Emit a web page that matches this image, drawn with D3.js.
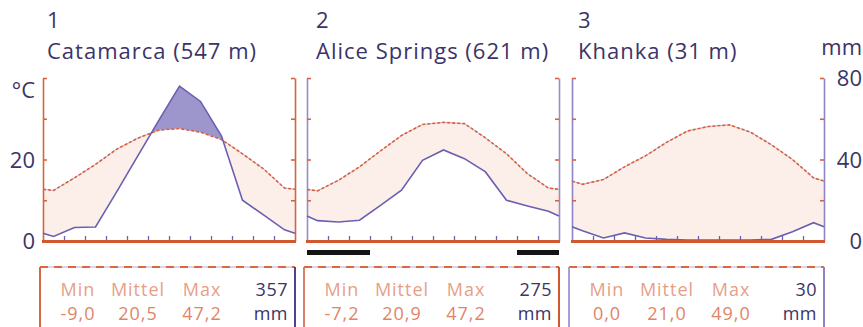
<!DOCTYPE html>
<html>
<head>
<meta charset="utf-8">
<script src="https://cdn.jsdelivr.net/npm/d3@7"></script>
<style>
  body { margin: 0; background: #fff; }
  svg { display: block; }
  text { font-family: "Open Sans", sans-serif; }
</style>
</head>
<body>
<div id="chart"></div>
<script>
// station data, months start in July for the southern stations
const stationNums = ["1", "2", "3"];
const stationNames = ["Catamarca (547 m)", "Alice Springs (621 m)", "Khanka (31 m)"];

const tempCatamarca = [12.4, 15.5, 18.8, 22.5, 25.2, 27.2, 27.6, 26.7, 24.9, 21.4, 17.7, 13.0];
const precCatamarca = [2.2, 6.6, 6.9, 24, 41.5, 59, 76, 68.5, 51.5, 20, 12.8, 5.5];

const tempAlice = [12.3, 14.9, 18.2, 22.1, 25.9, 28.6, 29.1, 28.8, 25.3, 21.4, 16.5, 13.0];
const precAlice = [10.0, 9.3, 10.2, 17.5, 24.9, 39.6, 44.7, 40.4, 33.9, 20.0, 17.2, 14.6];

const tempKhanka = [13.9, 15.1, 18.2, 20.9, 24.2, 27.0, 28.1, 28.5, 26.7, 23.6, 20.0, 15.5];
const precKhanka = [5, 1.5, 4, 1.5, 0.8, 0.5, 0.5, 0.5, 0.5, 0.8, 4.5, 9];

// months with frost (black bar under the diagram)
const frostCatamarca = [];
const frostAlice = [0, 1, 2, 10, 11];
const frostKhanka = [];

const statLabels = ["Min", "Mittel", "Max"];
const statsCatamarca = ["-9,0", "20,5", "47,2"];
const statsAlice = ["-7,2", "20,9", "47,2"];
const statsKhanka = ["0,0", "21,0", "49,0"];
const totals = ["357", "275", "30"];

const tempTicks = [0, 10, 20, 30, 40];
const leftLabels = ["20", "0"];
const rightLabels = ["80", "40", "0"];

const panels = [
  { temp: tempCatamarca, prec: precCatamarca, frost: frostCatamarca, stats: statsCatamarca,
    frame: "#d4653e", tick: "#d4653e", boxL: "#d26a45", boxR: "#4d4392", titleX: 47 },
  { temp: tempAlice, prec: precAlice, frost: frostAlice, stats: statsAlice,
    frame: "#978dcc", tick: "#d4653e", boxL: "#d58064", boxR: "#d0582f", titleX: 316 },
  { temp: tempKhanka, prec: precKhanka, frost: frostKhanka, stats: statsKhanka,
    frame: "#8d83c6", tick: "#d4653e", boxL: "#a79fd6", boxR: "#8d83c6", titleX: 578 }
];

const width = 863, height = 327;
const panelLeft = [43, 307, 572];
const panelW = 252;
const yTop = 78, yBase = 241;

const svg = d3.select("#chart")
  .append("svg")
    .attr("width", width)
    .attr("height", height);
const defs = svg.append("defs");

// Walter-Lieth: 10 °C = 20 mm
const yT = d3.scaleLinear().domain([0, 40]).range([yBase, yTop]);
const yP = d3.scaleLinear().domain([0, 80]).range([yBase, yTop]);

const textCol = "#3b3468";

panels.forEach((p, k) => {
  const x0 = panelLeft[k];
  const x = d3.scaleLinear().domain([0, 12]).range([x0, x0 + panelW]);

  // month centres, closed to the frame with the Dec/Jan mean
  const wrap = arr => {
    const e = (arr[0] + arr[11]) / 2;
    return [[0, e]].concat(arr.map((v, i) => [i + 0.5, v]), [[12, e]]);
  };
  const tPts = wrap(p.temp), pPts = wrap(p.prec);

  const g = svg.append("g");

  defs.append("clipPath").attr("id", "abovePrec" + k)
    .append("path")
    .attr("d", d3.area().x(d => x(d[0])).y0(yTop - 10).y1(d => yP(d[1]))(pPts));
  defs.append("clipPath").attr("id", "aboveTemp" + k)
    .append("path")
    .attr("d", d3.area().x(d => x(d[0])).y0(yTop - 10).y1(d => yT(d[1]))(tPts));

  // arid period
  g.append("path")
    .attr("d", d3.area().x(d => x(d[0])).y0(yBase).y1(d => yT(d[1]))(tPts))
    .attr("fill", "#fcefea")
    .attr("clip-path", `url(#abovePrec${k})`);
  // humid period
  g.append("path")
    .attr("d", d3.area().x(d => x(d[0])).y0(yBase).y1(d => yP(d[1]))(pPts))
    .attr("fill", "#9d96cd")
    .attr("clip-path", `url(#aboveTemp${k})`);

  // frame left / right
  const left = g.append("g")
    .attr("transform", `translate(${x0},0)`)
    .call(d3.axisRight(yT).tickValues(tempTicks).tickSize(4).tickSizeOuter(0).tickFormat(""));
  const right = g.append("g")
    .attr("transform", `translate(${x0 + panelW},0)`)
    .call(d3.axisLeft(yT).tickValues(tempTicks).tickSize(4).tickSizeOuter(0).tickFormat(""));
  [left, right].forEach(a => {
    a.select(".domain").attr("stroke", p.frame).attr("stroke-width", 1.6);
    a.selectAll(".tick line").attr("stroke", p.tick).attr("stroke-width", 1.6);
  });

  // lines
  const line = d3.line().x(d => x(d[0]));
  g.append("path")
    .attr("d", line.y(d => yT(d[1]))(tPts))
    .attr("fill", "none")
    .attr("stroke", "#c7b4d6")
    .attr("stroke-width", 1);
  g.append("path")
    .attr("d", line.y(d => yT(d[1]))(tPts))
    .attr("fill", "none")
    .attr("stroke", "#d9603a")
    .attr("stroke-width", 1.6)
    .attr("stroke-dasharray", "3,2");
  g.append("path")
    .attr("d", line.y(d => yP(d[1]))(pPts))
    .attr("fill", "none")
    .attr("stroke", "#6a5fb2")
    .attr("stroke-width", 1.6);

  // bottom axis with month ticks
  g.append("line")
    .attr("x1", x(0) - 1).attr("x2", x(12) + 1)
    .attr("y1", yBase + 0.5).attr("y2", yBase + 0.5)
    .attr("stroke", "#d0582f")
    .attr("stroke-width", 3);
  const bottom = g.append("g")
    .attr("transform", `translate(0,${yBase - 1})`)
    .call(d3.axisTop(x).tickValues(d3.range(1, 12)).tickSize(4).tickSizeOuter(0).tickFormat(""));
  bottom.select(".domain").remove();
  bottom.selectAll(".tick line").attr("stroke", "#6a60b0").attr("stroke-width", 1.3);

  // frost months
  g.selectAll("rect.frost")
    .data(p.frost)
    .join("rect")
      .attr("class", "frost")
      .attr("x", d => x(d))
      .attr("width", d => x(d + 1) - x(d))
      .attr("y", 250)
      .attr("height", 5)
      .attr("fill", "#141414");

  // titles
  g.append("text")
    .attr("x", p.titleX).attr("y", 28)
    .attr("font-size", 22).attr("fill", textCol)
    .text(stationNums[k]);
  g.append("text")
    .attr("x", p.titleX).attr("y", 59)
    .attr("font-size", 22).attr("letter-spacing", 1).attr("fill", textCol)
    .text(stationNames[k]);

  // stats box
  const bx = x0 - 3, bw = panelW + 3, by = 267;
  const box = g.append("g");
  box.append("line").attr("x1", bx).attr("x2", bx + bw).attr("y1", by).attr("y2", by)
    .attr("stroke", "#b4abd9").attr("stroke-width", 1);
  box.append("line").attr("x1", bx).attr("x2", bx + bw).attr("y1", by).attr("y2", by)
    .attr("stroke", "#d8683f").attr("stroke-width", 2).attr("stroke-dasharray", "8,6");
  box.append("line").attr("x1", bx).attr("x2", bx).attr("y1", by).attr("y2", height)
    .attr("stroke", p.boxL).attr("stroke-width", 2);
  box.append("line").attr("x1", bx + bw).attr("x2", bx + bw).attr("y1", by).attr("y2", height)
    .attr("stroke", p.boxR).attr("stroke-width", 2);

  const cols = [bx + 38, bx + 98, bx + 162];
  box.selectAll("text.lab")
    .data(statLabels)
    .join("text")
      .attr("class", "lab")
      .attr("x", (d, i) => cols[i]).attr("y", 296)
      .attr("text-anchor", "middle")
      .attr("font-size", 18).attr("letter-spacing", 1).attr("fill", "#e7a088")
      .text(d => d);
  box.selectAll("text.val")
    .data(p.stats)
    .join("text")
      .attr("class", "val")
      .attr("x", (d, i) => cols[i]).attr("y", 320)
      .attr("text-anchor", "middle")
      .attr("font-size", 18).attr("letter-spacing", 1).attr("fill", "#df8567")
      .text(d => d);
  box.append("text")
    .attr("x", bx + bw - 7).attr("y", 296)
    .attr("text-anchor", "end")
    .attr("font-size", 18).attr("letter-spacing", 0.5).attr("fill", textCol)
    .text(totals[k]);
  box.append("text")
    .attr("x", bx + bw - 7).attr("y", 320)
    .attr("text-anchor", "end")
    .attr("font-size", 18).attr("letter-spacing", 0.5).attr("fill", textCol)
    .text("mm");
});

// left temperature labels
svg.append("text")
  .attr("x", 35).attr("y", yT(40) + 20)
  .attr("text-anchor", "end")
  .attr("font-size", 22).attr("fill", textCol)
  .text("°C");
svg.selectAll("text.tl")
  .data(leftLabels)
  .join("text")
    .attr("class", "tl")
    .attr("x", 35).attr("y", d => yT(+d) + 8)
    .attr("text-anchor", "end")
    .attr("font-size", 22).attr("fill", textCol)
    .text(d => d);

// right precipitation labels
svg.append("text")
  .attr("x", 862).attr("y", 55)
  .attr("text-anchor", "end")
  .attr("font-size", 22).attr("fill", textCol)
  .text("mm");
svg.selectAll("text.pl")
  .data(rightLabels)
  .join("text")
    .attr("class", "pl")
    .attr("x", 862).attr("y", d => yP(+d) + 8)
    .attr("text-anchor", "end")
    .attr("font-size", 22).attr("fill", textCol)
    .text(d => d);
</script>
</body>
</html>
